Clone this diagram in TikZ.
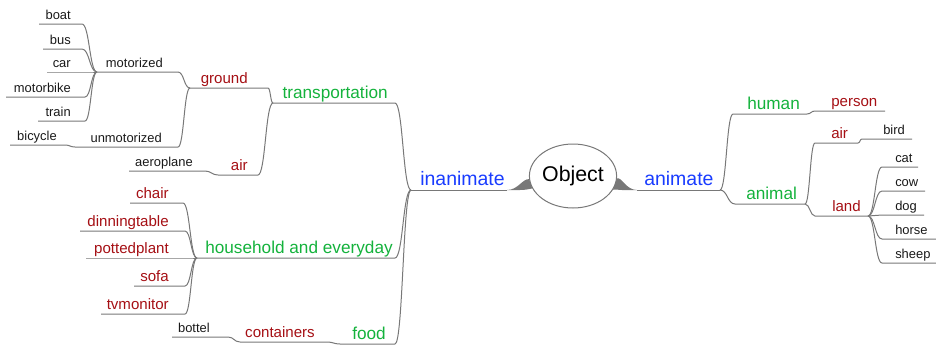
\documentclass[tikz,border=0pt]{standalone}
\usepackage{fontspec}
\setmainfont{Liberation Sans}
\usetikzlibrary{shapes.geometric,calc}

\definecolor{topblue}{RGB}{25,60,255}
\definecolor{midgreen}{RGB}{20,178,60}
\definecolor{subred}{RGB}{165,15,20}
\definecolor{linegray}{RGB}{120,120,120}

\tikzset{
  every node/.style={inner sep=0pt},
  root/.style={draw=linegray, ellipse, line width=0.75pt, minimum width=61.5pt, minimum height=48pt, font=\fontsize{16}{18}\selectfont},
  level1/.style={text=topblue, font=\fontsize{14.6}{17}\selectfont},
  level2/.style={text=midgreen, font=\fontsize{12.9}{15}\selectfont},
  level3/.style={text=subred, font=\fontsize{11.3}{13}\selectfont},
  leaf/.style={text=black!90, font=\fontsize{9.7}{11}\selectfont},
  link/.style={draw=linegray, line width=0.75pt},
  branch/.style={to path={let \p1=(\tikztostart), \p2=(\tikztotarget) in
    .. controls ({(\x1+\x2)/2},\y1) and ({(\x1+\x2)/2},\y2) .. (\tikztotarget)}}
}

\begin{document}
\begin{tikzpicture}[x=0.75pt, y=-0.75pt]
\useasboundingbox (0,0) rectangle (936,347);

% Central node
\node[root] (object) at (573,176) {Object};

% First level
\node[level1, anchor=base east] (inanimate) at (505,185) {inanimate};
\coordinate (inanimate-l) at (411,190);
\coordinate (inanimate-r) at (507,190);
\node[level1, anchor=base west] (animate) at (644,185) {animate};
\coordinate (animate-l) at (637,190);
\coordinate (animate-r) at (720,190);
\draw[link] (inanimate-l) -- (inanimate-r);
\draw[link] (animate-l) -- (animate-r);

% Tapered joins to the ellipse
\fill[linegray] (object.184) .. controls (522,179) and (518,190) .. (inanimate-r) -- (520,190) .. controls (526,190) and (529,189) .. (object.197) -- cycle;
\fill[linegray] (object.-3) .. controls (622,177) and (626,190) .. (animate-l) -- (622,190) .. controls (618,190) and (616,189) .. (object.-19) -- cycle;

% Inanimate side
\node[level2, anchor=base east] (transportation) at (388,98) {transportation};
\coordinate (transportation-l) at (273,103);
\coordinate (transportation-r) at (395,103);
\draw[link] (transportation-l) -- (transportation-r) to[branch] (inanimate-l);

\node[level2, anchor=base east] (household) at (393,253) {household and everyday};
\coordinate (household-l) at (197,258);
\coordinate (household-r) at (395,258);
\draw[link] (household-l) -- (household-r) to[branch] (inanimate-l);

\node[level2, anchor=base east] (food) at (386,339) {food};
\coordinate (food-l) at (340,344);
\coordinate (food-r) at (395,344);
\draw[link] (food-l) -- (food-r) to[branch] (inanimate-l);

% Transportation
\node[level3, anchor=base east] (ground) at (248,83) {ground};
\coordinate (ground-l) at (190,88);
\coordinate (ground-r) at (268,88);
\draw[link] (ground-l) -- (ground-r) to[branch] (transportation-l);

\node[level3, anchor=base east] (air) at (248,170) {air};
\coordinate (air-l) at (218,175);
\coordinate (air-r) at (258,175);
\draw[link] (air-l) -- (air-r) to[branch] (transportation-l);

\node[leaf, anchor=base east] (motorized) at (163,67) {motorized};
\coordinate (motorized-l) at (97,72);
\coordinate (motorized-r) at (178,72);
\draw[link] (motorized-l) -- (motorized-r) to[branch] (ground-l);

\node[leaf, anchor=base east] (unmotorized) at (162,142) {unmotorized};
\coordinate (unmotorized-l) at (75,147);
\coordinate (unmotorized-r) at (178,147);
\draw[link] (unmotorized-l) -- (unmotorized-r) to[branch] (ground-l);

\node[leaf, anchor=base east] (bicycle) at (57,140) {bicycle};
\coordinate (bicycle-l) at (10,145);
\coordinate (bicycle-r) at (65,145);
\draw[link] (bicycle-l) -- (bicycle-r) to[branch] (unmotorized-l);

\node[leaf, anchor=base east] (aeroplane) at (193,166) {aeroplane};
\coordinate (aeroplane-l) at (129,171);
\coordinate (aeroplane-r) at (205,171);
\draw[link] (aeroplane-l) -- (aeroplane-r) to[branch] (air-l);

\foreach \word/\ypos/\xa/\xb in {boat/24/39/82, bus/49/43/82, car/72/47/90, motorbike/97/6/85, train/121/38/85}{
  \node[leaf, anchor=base east] (\word) at (71,\ypos-5) {\word};
  \coordinate (\word-l) at (\xa,\ypos);
  \coordinate (\word-r) at (\xb,\ypos);
  \draw[link] (\word-l) -- (\word-r) to[branch] (motorized-l);
}

% Household and everyday
\foreach \word/\ypos/\xa/\xb in {chair/203/130/183, dinningtable/231/80/185, pottedplant/258/86/190, sofa/286/134/185, tvmonitor/314/101/185}{
  \node[level3, anchor=base east] (\word) at (169,\ypos-5) {\word};
  \coordinate (\word-l) at (\xa,\ypos);
  \coordinate (\word-r) at (\xb,\ypos);
  \draw[link] (\word-l) -- (\word-r) to[branch] (household-l);
}

% Food
\node[level3, anchor=base east] (containers) at (315,337) {containers};
\coordinate (containers-l) at (240,342);
\coordinate (containers-r) at (327,342);
\draw[link] (containers-l) -- (containers-r) to[branch] (food-l);

\node[leaf, anchor=base east] (bottel) at (210,332) {bottel};
\coordinate (bottel-l) at (172,337);
\coordinate (bottel-r) at (228,337);
\draw[link] (bottel-l) -- (bottel-r) to[branch] (containers-l);

% Animate side
\node[level2, anchor=base west] (human) at (747,109) {human};
\coordinate (human-l) at (733,114);
\coordinate (human-r) at (807,114);
\draw[link] (animate-r) to[branch] (human-l) -- (human-r);

\node[level3, anchor=base west] (person) at (831,106) {person};
\coordinate (person-l) at (815,111);
\coordinate (person-r) at (885,111);
\draw[link] (human-r) to[branch] (person-l) -- (person-r);

\node[level2, anchor=base west] (animal) at (746,199) {animal};
\coordinate (animal-l) at (735,204);
\coordinate (animal-r) at (805,204);
\draw[link] (animate-r) to[branch] (animal-l) -- (animal-r);

\node[level3, anchor=base west] (animal-air) at (831,138) {air};
\coordinate (animal-air-l) at (815,143);
\coordinate (animal-air-r) at (858,143);
\draw[link] (animal-r) to[branch] (animal-air-l) -- (animal-air-r);

\node[leaf, anchor=base west] (bird) at (883,134) {bird};
\coordinate (bird-l) at (862,139);
\coordinate (bird-r) at (912,139);
\draw[link] (animal-air-r) to[branch] (bird-l) -- (bird-r);

\node[level3, anchor=base west] (land) at (832,211) {land};
\coordinate (land-l) at (815,216);
\coordinate (land-r) at (868,216);
\draw[link] (animal-r) to[branch] (land-l) -- (land-r);

\foreach \word/\ypos/\xb in {cat/167/918, cow/191/925, dog/215/924, horse/239/936, sheep/263/936}{
  \node[leaf, anchor=base west] (\word) at (895,\ypos-5) {\word};
  \coordinate (\word-l) at (882,\ypos);
  \coordinate (\word-r) at (\xb,\ypos);
  \draw[link] (land-r) to[branch] (\word-l) -- (\word-r);
}

\end{tikzpicture}
\end{document}
